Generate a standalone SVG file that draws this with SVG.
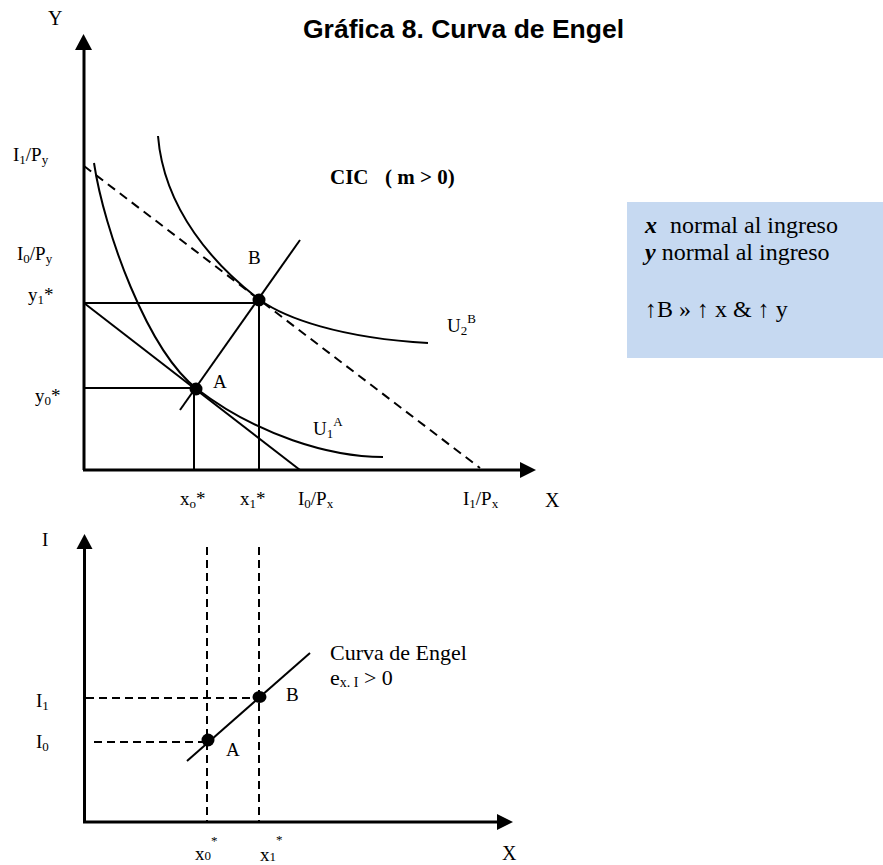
<svg xmlns="http://www.w3.org/2000/svg" width="883" height="865" viewBox="0 0 883 865">
<style>
.t{font-family:"Liberation Serif","Times New Roman",serif;font-size:19px;fill:#000}
.ax{stroke:#000;stroke-width:3;fill:none}
.ln{stroke:#000;stroke-width:2;fill:none}
.ds{stroke:#000;stroke-width:2;fill:none;stroke-dasharray:9,6}
.dv{stroke:#000;stroke-width:2;fill:none;stroke-dasharray:8,5}
.sub{font-size:13px}
.big{font-size:24px}
.mid{font-size:22px}
</style>
<rect width="883" height="865" fill="#fff"/>
<text x="303" y="38" style="font-family:'Liberation Sans',Arial,sans-serif;font-weight:bold;font-size:26.5px">Gráfica 8. Curva de Engel</text>

<g id="upper-axes">
<line class="ax" x1="84" y1="470" x2="84" y2="48"/>
<polygon points="75,50 92,50 83.5,34" fill="#000"/>
<line class="ax" x1="83" y1="470" x2="522" y2="470"/>
<polygon points="520,462 520,478 536,470" fill="#000"/>
</g>

<g id="upper-lines">
<line class="ln" x1="84" y1="303" x2="259" y2="303"/>
<line class="ln" x1="84" y1="388" x2="196" y2="388"/>
<line class="ln" x1="194" y1="389" x2="194" y2="470"/>
<line class="ln" x1="259" y1="300" x2="259" y2="470"/>
<line class="ln" x1="84" y1="303" x2="300" y2="470"/>
<line class="ds" x1="84" y1="166" x2="480" y2="468"/>
<line class="ln" x1="180" y1="410" x2="300" y2="240"/>
<path class="ln" d="M94,163 C104,230 147,350 197,389 C257,435 330,457 383,457"/>
<path class="ln" d="M158,136 C164,210 215,266 260,300 C285,318 340,338 428,343"/>
<circle id="pA" cx="196" cy="389" r="6.5" fill="#000"/>
<circle id="pB" cx="259" cy="300" r="6.5" fill="#000"/>
</g>

<g id="upper-labels">
<text class="t" x="48" y="25" style="font-size:20px">Y</text>
<text class="t" x="13" y="161">I<tspan class="sub" dy="3">1</tspan><tspan dy="-3">/P</tspan><tspan class="sub" dy="3">y</tspan></text>
<text class="t" x="17" y="260">I<tspan class="sub" dy="3">0</tspan><tspan dy="-3">/P</tspan><tspan class="sub" dy="3">y</tspan></text>
<text class="t" x="28" y="301">y<tspan class="sub" dy="3">1</tspan><tspan dy="-3">*</tspan></text>
<text class="t" x="35" y="402">y<tspan class="sub" dy="3">0</tspan><tspan dy="-3">*</tspan></text>
<text class="t" x="248" y="264">B</text>
<text class="t" x="213" y="388">A</text>
<text class="t" x="330" y="184" style="font-weight:bold;font-size:21px">CIC<tspan x="385">( m &gt; 0)</tspan></text>
<text class="t" x="447" y="332">U<tspan class="sub" dy="3">2</tspan><tspan class="sub" dy="-12">B</tspan></text>
<text class="t" x="313" y="435">U<tspan class="sub" dy="3">1</tspan><tspan class="sub" dy="-12">A</tspan></text>
<text class="t" x="180" y="505">x<tspan class="sub" dy="3">o</tspan><tspan dy="-3">*</tspan></text>
<text class="t" x="240" y="505">x<tspan class="sub" dy="3">1</tspan><tspan dy="-3">*</tspan></text>
<text class="t" x="298" y="505">I<tspan class="sub" dy="3">0</tspan><tspan dy="-3">/P</tspan><tspan class="sub" dy="3">x</tspan></text>
<text class="t" x="463" y="505">I<tspan class="sub" dy="3">1</tspan><tspan dy="-3">/P</tspan><tspan class="sub" dy="3">x</tspan></text>
<text class="t" x="545" y="507" style="font-size:20px">X</text>
</g>

<g id="note-box">
<rect x="627" y="202" width="256" height="156" fill="#C6D9F1"/>
<text class="t big" x="645" y="233"><tspan font-weight="bold" font-style="italic">x</tspan><tspan x="670">normal al ingreso</tspan></text>
<text class="t big" x="645" y="260"><tspan font-weight="bold" font-style="italic">y</tspan> normal al ingreso</text>
<text class="t big" x="645" y="317">↑B » ↑ x &amp; ↑ y</text>
</g>

<g id="lower-axes">
<line class="ax" x1="84.5" y1="823" x2="84.5" y2="547"/>
<polygon points="76.5,549 92.5,549 84.5,534" fill="#000"/>
<line class="ax" x1="83" y1="822" x2="499" y2="822"/>
<polygon points="497,814 497,830 513,822" fill="#000"/>
</g>

<g id="lower-lines">
<line class="dv" x1="207" y1="547" x2="207" y2="822"/>
<line class="dv" x1="259" y1="547" x2="259" y2="822"/>
<line class="dv" x1="86" y1="698" x2="259" y2="698"/>
<line class="dv" x1="94" y1="742" x2="207" y2="742"/>
<line class="ln" x1="187" y1="761" x2="310" y2="653"/>
<ellipse id="qA" cx="208" cy="740" rx="6.5" ry="6.5" fill="#000"/>
<ellipse id="qB" cx="259.5" cy="697" rx="7" ry="6" fill="#000"/>
</g>

<g id="lower-labels">
<text class="t" x="42" y="546">I</text>
<text class="t" x="36" y="707">I<tspan class="sub" dy="3">1</tspan></text>
<text class="t" x="36" y="748">I<tspan class="sub" dy="3">0</tspan></text>
<text class="t" x="286" y="701">B</text>
<text class="t" x="226" y="756">A</text>
<text class="t mid" x="330" y="660">Curva de Engel</text>
<text class="t mid" x="330" y="685">e<tspan style="font-size:14px" dy="2">x. I</tspan><tspan dy="-2"> &gt; 0</tspan></text>
<text class="t" x="195" y="860">x<tspan class="sub">0</tspan><tspan class="sub" dy="-15">*</tspan></text>
<text class="t" x="260" y="861">x<tspan class="sub">1</tspan><tspan class="sub" dy="-17">*</tspan></text>
<text class="t" x="502" y="860" style="font-size:20px">X</text>
</g>
</svg>
